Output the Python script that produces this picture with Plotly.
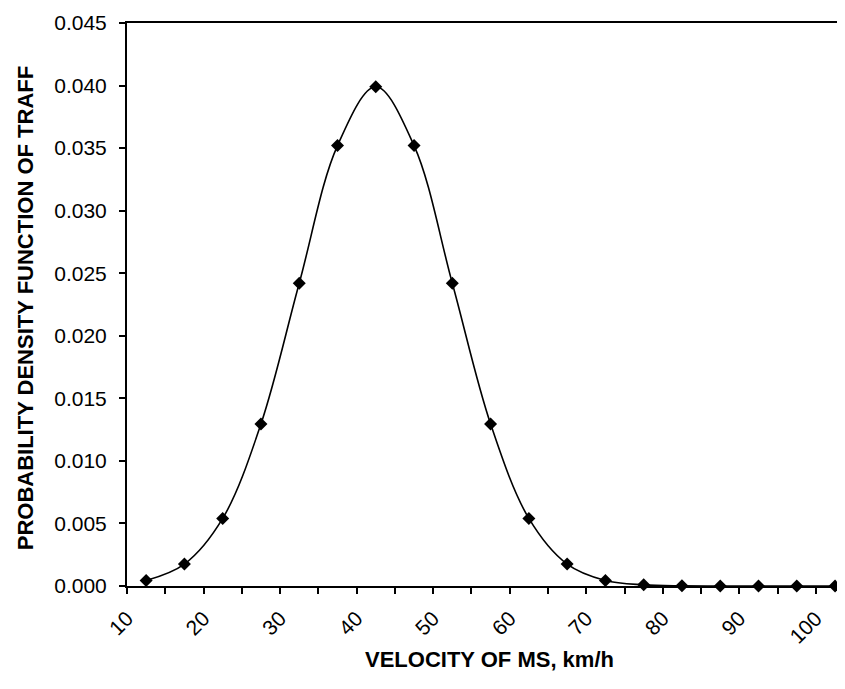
import plotly.graph_objects as go

velocity = [12.5, 17.5, 22.5, 27.5, 32.5, 37.5, 42.5, 47.5, 52.5, 57.5,
            62.5, 67.5, 72.5, 77.5, 82.5, 87.5, 92.5, 97.5, 102.5]
pdf = [0.00044, 0.00175, 0.0054, 0.01295, 0.0242, 0.0352, 0.0399, 0.0352, 0.0242, 0.01295,
       0.0054, 0.00175, 0.00044, 0.00009, 0.00001, 0.0, 0.0, 0.0, 0.0]

x_title = "VELOCITY OF MS, km/h"
y_title = "PROBABILITY DENSITY FUNCTION OF TRAFF"

FONT = "Liberation Sans, Arial, sans-serif"

fig = go.Figure()
fig.add_trace(go.Scatter(
    x=velocity, y=pdf, mode="lines+markers",
    line=dict(color="black", width=1.6, shape="spline", smoothing=1.0),
    marker=dict(symbol="diamond", size=10, color="black"),
    showlegend=False, cliponaxis=False,
))

fig.update_layout(
    width=837, height=681,
    margin=dict(l=119, r=0, t=15, b=103, autoexpand=False),
    paper_bgcolor="white", plot_bgcolor="white",
    font=dict(family=FONT, size=21, color="black"),
    xaxis=dict(
        range=[10, 103.8], dtick=10, tick0=10, automargin=False,
        showline=True, linecolor="black", linewidth=2, mirror=True,
        ticks="outside", ticklen=6, tickwidth=1.5, tickcolor="black",
        minor=dict(dtick=5, ticks="outside", ticklen=6, tickwidth=1.5, tickcolor="black"),
        tickangle=-45, showgrid=False, zeroline=False,
        ticklabelstandoff=4,
    ),
    yaxis=dict(
        range=[0, 0.045], dtick=0.005, tickformat=".3f", automargin=False,
        showline=True, linecolor="black", linewidth=2,
        ticks="outside", ticklen=6, tickwidth=1.5, tickcolor="black",
        showgrid=False, zeroline=False, ticklabelstandoff=8,
    ),
    annotations=[
        dict(text=x_title, xref="paper", yref="paper", x=0.505, y=-0.131,
             xanchor="center", yanchor="middle", showarrow=False,
             font=dict(family=FONT, size=22, color="black", weight="bold")),
        dict(text=y_title, xref="paper", yref="paper", x=-0.142, y=0.06,
             xanchor="center", yanchor="bottom", textangle=-90, showarrow=False,
             font=dict(family=FONT, size=22, color="black", weight="bold")),
    ],
)

fig.write_html("out.html")
